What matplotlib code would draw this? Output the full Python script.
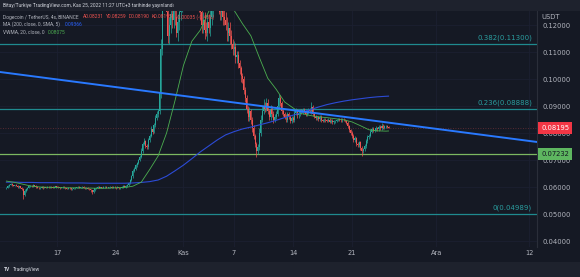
import matplotlib
matplotlib.use('Agg')
import matplotlib.pyplot as plt
import matplotlib.transforms as mtransforms
from matplotlib.patches import Rectangle
import numpy as np

# --- data (DOGE/USDT 4h, Binance) ---
first_open = 0.0595
closes = [
    0.0597, 0.0603, 0.0608, 0.0611, 0.0606, 0.0604,   # Oct 11
    0.0607, 0.0605, 0.0600, 0.0602, 0.0598, 0.0594,
    0.0570, 0.0585, 0.0593, 0.0598, 0.0602, 0.0604,
    0.0603, 0.0606, 0.0604, 0.0600, 0.0598, 0.0596,
    0.0598, 0.0600, 0.0597, 0.0599, 0.0598, 0.0600,
    0.0599, 0.0601, 0.0600, 0.0598, 0.0600, 0.0602,
    0.0601, 0.0599, 0.0597, 0.0599, 0.0600, 0.0598,   # Oct 17
    0.0596, 0.0594, 0.0597, 0.0595, 0.0592, 0.0594,
    0.0595, 0.0597, 0.0599, 0.0600, 0.0598, 0.0599,
    0.0600, 0.0598, 0.0596, 0.0597, 0.0594, 0.0592,
    0.0588, 0.0580, 0.0590, 0.0595, 0.0598, 0.0600,
    0.0598, 0.0599, 0.0597, 0.0599, 0.0600, 0.0598,
    0.0597, 0.0599, 0.0601, 0.0598, 0.0600, 0.0599,
    0.0597, 0.0599, 0.0596, 0.0598, 0.0600, 0.0603,   # Oct 24
    0.0601, 0.0603, 0.0608, 0.0615, 0.0625, 0.0640,
    0.0660, 0.0668, 0.0680, 0.0690, 0.0700, 0.0712,
    0.0735, 0.0760, 0.0770, 0.0752, 0.0748, 0.0775,
    0.0790, 0.0815, 0.0805, 0.0830, 0.0855, 0.0870,
    0.0880, 0.0950, 0.1110, 0.1300, 0.1400, 0.1340,
    0.1250, 0.1160, 0.1200, 0.1240, 0.1220, 0.1270,
    0.1230, 0.1170, 0.1210, 0.1250, 0.1280, 0.1330,
    0.1450, 0.1500, 0.1480, 0.1420, 0.1400, 0.1450,   # Nov 1
    0.1380, 0.1350, 0.1380, 0.1320, 0.1300, 0.1280,
    0.1250, 0.1200, 0.1220, 0.1180, 0.1170, 0.1210,
    0.1190, 0.1230, 0.1260, 0.1290, 0.1320, 0.1300,
    0.1300, 0.1270, 0.1250, 0.1260, 0.1230, 0.1220,
    0.1200, 0.1170, 0.1190, 0.1160, 0.1130, 0.1110,
    0.1120, 0.1080, 0.1090, 0.1060, 0.1040, 0.1010,   # Nov 7
    0.1000, 0.0960, 0.0930, 0.0890, 0.0860, 0.0880,
    0.0850, 0.0820, 0.0790, 0.0760, 0.0735, 0.0750,
    0.0800, 0.0850, 0.0880, 0.0900, 0.0890, 0.0910,
    0.0880, 0.0860, 0.0890, 0.0870, 0.0850, 0.0860,
    0.0870, 0.0900, 0.0930, 0.0910, 0.0880, 0.0870,
    0.0860, 0.0850, 0.0870, 0.0860, 0.0845, 0.0855,
    0.0850, 0.0875, 0.0880, 0.0865, 0.0870, 0.0880,   # Nov 14
    0.0875, 0.0885, 0.0880, 0.0870, 0.0878, 0.0885,
    0.0880, 0.0895, 0.0870, 0.0860, 0.0855, 0.0858,
    0.0852, 0.0860, 0.0848, 0.0845, 0.0850, 0.0848,
    0.0845, 0.0850, 0.0842, 0.0846, 0.0840, 0.0843,
    0.0845, 0.0848, 0.0852, 0.0850, 0.0847, 0.0850,
    0.0848, 0.0845, 0.0838, 0.0825, 0.0810, 0.0800,
    0.0790, 0.0775, 0.0780, 0.0760, 0.0755, 0.0765,   # Nov 21
    0.0745, 0.0735, 0.0740, 0.0752, 0.0770, 0.0785,
    0.0790, 0.0805, 0.0815, 0.0808, 0.0812, 0.0818,
    0.0815, 0.0822, 0.0818, 0.0826, 0.0820, 0.0825,
    0.0826, 0.08231, 0.08195,
]
# wick lengths above / below the body, in 0.0001 units
wick_up = [
    3, 4, 3, 4, 2, 3,  2, 3, 2, 3, 2, 2,  2, 6, 3, 3, 4, 3,  5, 4, 3, 2, 2, 3,
    2, 2, 3, 2, 2, 2,  2, 3, 2, 2, 3, 2,  3, 2, 2, 2, 3, 2,  2, 2, 3, 2, 2, 2,
    2, 3, 2, 3, 2, 2,  2, 2, 2, 3, 2, 2,  2, 2, 3, 3, 2, 3,  2, 2, 2, 3, 2, 2,
    3, 2, 3, 2, 2, 2,  2, 3, 2, 2, 3, 4,  3, 3, 4, 4, 5, 6,  6, 5, 5, 4, 5, 6,
    8, 7, 10, 5, 6, 8,  8, 10, 6, 8, 10, 12,  10, 30, 40, 40, 30, 40,
    40, 30, 30, 30, 40, 30,  30, 30, 30, 30, 40, 40,  40, 60, 40, 30, 30, 30,
    30, 30, 30, 30, 30, 30,  30, 30, 30, 30, 30, 30,  30, 30, 30, 30, 30, 30,
    30, 30, 30, 30, 30, 30,  30, 30, 20, 20, 20, 20,  20, 15, 15, 15, 10, 10,
    12, 10, 10, 10, 10, 15,  10, 10, 8, 8, 6, 10,  20, 15, 20, 25, 15, 20,
    15, 10, 15, 10, 10, 10,  10, 15, 15, 10, 10, 8,  8, 10, 8, 8, 6, 8,
    8, 10, 12, 8, 8, 8,  8, 8, 8, 6, 8, 8,  8, 20, 8, 6, 6, 5,  5, 6, 5, 5, 5, 5,
    5, 5, 5, 5, 5, 5,  5, 5, 5, 5, 5, 5,  5, 5, 5, 5, 5, 5,  6, 8, 8, 6, 6, 6,
    6, 6, 6, 8, 8, 8,  8, 8, 8, 6, 8, 8,  6, 8, 6, 10, 6, 6,  5, 5, 2.8,
]
wick_dn = [
    3, 2, 3, 2, 3, 2,  2, 2, 3, 2, 3, 4,  14, 5, 4, 3, 2, 3,  2, 3, 2, 3, 3, 4,
    3, 2, 3, 2, 3, 2,  2, 2, 3, 2, 2, 2,  2, 3, 3, 2, 2, 3,  3, 3, 2, 3, 4, 3,
    2, 2, 2, 2, 3, 2,  2, 3, 3, 2, 3, 4,  5, 6, 4, 3, 2, 2,  2, 3, 2, 2, 2, 3,
    2, 2, 2, 3, 2, 2,  3, 2, 3, 2, 2, 2,  2, 3, 3, 3, 4, 4,  5, 4, 5, 5, 4, 5,
    6, 8, 6, 8, 6, 6,  8, 6, 8, 6, 8, 8,  10, 10, 20, 20, 30, 30,
    30, 25, 30, 30, 30, 30,  30, 15, 30, 30, 30, 30,  30, 30, 30, 30, 30, 30,
    30, 30, 30, 30, 30, 30,  30, 30, 30, 30, 10, 30,  20, 30, 30, 30, 30, 30,
    30, 30, 30, 30, 30, 20,  20, 30, 30, 30, 20, 20,  20, 20, 20, 20, 20, 20,
    15, 15, 15, 15, 15, 15,  15, 15, 12, 12, 23, 12,  12, 10, 10, 10, 12, 10,
    10, 12, 10, 10, 12, 10,  8, 8, 10, 10, 8, 8,  8, 8, 8, 8, 8, 8,
    8, 8, 8, 8, 8, 8,  6, 6, 6, 6, 6, 6,  6, 8, 8, 6, 6, 6,  6, 6, 6, 6, 6, 6,
    6, 6, 6, 6, 6, 6,  5, 5, 5, 5, 5, 5,  5, 5, 5, 8, 8, 8,  8, 10, 8, 8, 8, 8,
    8, 20, 8, 6, 6, 6,  6, 6, 6, 6, 6, 6,  6, 6, 6, 6, 6, 6,  5, 5, 0.5,
]

# moving averages, sampled once a day (day 0 = Oct 11), last point = last candle
ma_days = list(range(46)) + [45.33]
ma200 = [0.0618, 0.0618, 0.0617, 0.0617, 0.0616, 0.0616, 0.0616, 0.0615, 0.0615,
         0.0615, 0.0614, 0.0614, 0.0614, 0.0614, 0.0614, 0.0615, 0.0617, 0.0620,
         0.0626, 0.0640, 0.0660, 0.0681, 0.0705, 0.0730, 0.0752, 0.0774, 0.0793,
         0.0805, 0.0815, 0.0822, 0.0830, 0.0838, 0.0847, 0.0857, 0.0866, 0.0876,
         0.0886, 0.0896, 0.0905, 0.0912, 0.0918, 0.0923, 0.0927, 0.0931, 0.0934,
         0.0936, 0.09366]
vwma = [0.0622, 0.0617, 0.0610, 0.0603, 0.0600, 0.0599, 0.0598, 0.0597, 0.0597,
        0.0596, 0.0596, 0.0595, 0.0596, 0.0597, 0.0598, 0.0603, 0.0618, 0.0665,
        0.0715, 0.0800, 0.0920, 0.1050, 0.1140, 0.1181, 0.1250, 0.1290, 0.1280,
        0.1255, 0.1205, 0.1160, 0.1080, 0.1003, 0.0962, 0.0915, 0.0893, 0.0872,
        0.0865, 0.0860, 0.0857, 0.0853, 0.0849, 0.0841, 0.0827, 0.0812, 0.0808,
        0.0807, 0.08075]

trend_days = [0, 45]
trend_vals = [0.10229, 0.08398]

fib_ratios = ['0.382', '0.236', '0']
fib_levels = [0.11300, 0.08888, 0.04989]
support = 0.07232

price_ticks = [0.04, 0.05, 0.06, 0.07, 0.08, 0.09, 0.10, 0.11, 0.12]
tick_days = [6, 13, 21, 27, 34, 41, 51, 62]
tick_labels = ['17', '24', 'Kas', '7', '14', '21', 'Ara', '12']

# --- style ---
BG = '#151924'
BAR = '#1e222d'
TXT = '#b2b5be'
GREEN = '#26a69a'
RED = '#ef5350'
FIB = '#1f8a8f'
W, H = 580, 277


def fx(px):
    return px / W


def fy(py):
    return 1 - py / H


fig = plt.figure(figsize=(5.8, 2.77), dpi=100)
fig.patch.set_facecolor(BG)
fig.add_artist(Rectangle((0, fy(11)), 1, 11 / H, transform=fig.transFigure,
                         fc=BAR, ec='none', zorder=0))
fig.add_artist(Rectangle((0, 0), 1, 15 / H, transform=fig.transFigure,
                         fc=BAR, ec='none', zorder=0))

ax = fig.add_axes([0, fy(247), 537 / W, (247 - 11) / H])
ax.set_facecolor(BG)
ax.set_xlim(-0.759, 62.94)
ax.set_ylim(0.03778, 0.12519)

for s in ['top', 'left', 'bottom']:
    ax.spines[s].set_visible(False)
ax.spines['right'].set_color('#2a2e39')
ax.spines['right'].set_linewidth(0.8)

# date labels drawn as texts so the last one can be cut by the price scale
ax.set_xticks(tick_days)
ax.set_xticklabels([])
ax.yaxis.tick_right()
ax.set_yticks(price_ticks)
ax.set_yticklabels(['%.5f' % v for v in price_ticks])
ax.tick_params(axis='x', length=0)
ax.tick_params(axis='y', length=0, pad=4.3, labelsize=4.9, labelcolor=TXT)
ax.grid(color='#1c2030', lw=0.6)
ax.set_axisbelow(True)

clip = mtransforms.TransformedBbox(mtransforms.Bbox([[0, 0], [537 / W, 1]]),
                                   fig.transFigure)
xblend = mtransforms.blended_transform_factory(ax.transData, fig.transFigure)
for d, lab in zip(tick_days, tick_labels):
    tx = ax.text(d, fy(253), lab, transform=xblend, ha='center', va='center',
                 fontsize=4.8, color=TXT)
    tx.set_clip_box(clip)
    tx.set_clip_on(True)

# candles
c = np.array(closes)
o = np.r_[first_open, c[:-1]]
t = np.arange(len(c)) / 6
hi = np.maximum(o, c) + np.array(wick_up) * 1e-4
lo = np.minimum(o, c) - np.array(wick_dn) * 1e-4
cols = np.where(c >= o, GREEN, RED)
ax.vlines(t, lo, hi, colors=cols, lw=0.5, zorder=3)
ax.bar(t, np.maximum(np.abs(c - o), 0.00005), bottom=np.minimum(o, c),
       width=0.115, color=cols, lw=0, zorder=3)

# horizontal levels
for lvl in fib_levels:
    ax.axhline(lvl, color=FIB, lw=0.9, zorder=2)
ax.axhline(support, color='#7cb860', lw=0.9, zorder=2)
ax.axhline(c[-1], color=RED, lw=0.6, ls=(0, (1, 2)), alpha=0.4, zorder=2)

for r, lvl in zip(fib_ratios, fib_levels):
    ax.annotate('%s(%.5f)' % (r, lvl), xy=(532 / 537, lvl),
                xycoords=('axes fraction', 'data'), xytext=(0, 2.3),
                textcoords='offset points', ha='right', va='bottom',
                color='#2a9d9f', fontsize=5)

# moving averages and trendline
ax.plot(ma_days, ma200, color='#2c4bd6', lw=0.8, zorder=4)
ax.plot(ma_days, vwma, color='#4caf50', lw=0.6, zorder=4)
ax.axline((trend_days[0], trend_vals[0]), (trend_days[1], trend_vals[1]),
          color='#2979ff', lw=1.4, zorder=5)

# price labels on the axis
blend = mtransforms.blended_transform_factory(ax.transAxes, ax.transData)
ax.text(1 + 4 / 537, c[-1], '%.5f' % c[-1], transform=blend, ha='left',
        va='center', fontsize=4.9, color='white', clip_on=False, zorder=6,
        bbox=dict(boxstyle='square,pad=0.45', fc='#f23645', ec='none'))
ax.text(1 + 4 / 537, support, '%.5f' % support, transform=blend, ha='left',
        va='center', fontsize=4.9, color='#131722', clip_on=False, zorder=6,
        bbox=dict(boxstyle='square,pad=0.45', fc='#5eb660', ec='none'))
fig.text(fx(541), fy(17), 'USDT', fontsize=4.9, color=TXT, va='center',
         ha='left', bbox=dict(boxstyle='square,pad=0.5', fc=BG, ec='none'))

# header and legend
SMALL = dict(family=['Roboto', 'DejaVu Sans'], fontsize=3.5, va='center')
fig.text(fx(3), fy(5.5), 'Bitay/Turkiye TradingView.com, Kas 25, 2022 11:27 UTC+3 tarihinde yayınlandı',
         color='#d1d4dc', **SMALL)
fig.text(fx(3), fy(17), 'Dogecoin / TetherUS, 4s, BINANCE', color=TXT, **SMALL)
for xp, s in zip([83, 106, 129, 152, 176],
                 ['A0.08231', 'Y0.08259', 'D0.08190', 'K0.08195', '-0.00035 (-0.43%)']):
    fig.text(fx(xp), fy(17), s, color=RED, **SMALL)
fig.text(fx(3), fy(24.5), 'MA (200, close, 0, SMA, 5)', color=TXT, **SMALL)
fig.text(fx(65), fy(24.5), '0.09366', color='#2962ff', **SMALL)
fig.text(fx(3), fy(32), 'VWMA, 20, close, 0', color=TXT, **SMALL)
fig.text(fx(48), fy(32), '0.08075', color='#4caf50', **SMALL)

fig.text(fx(4), fy(269.5), 'TV', color='#d1d4dc', fontweight='bold', **SMALL)
fig.text(fx(13), fy(269.5), 'TradingView', color='#d1d4dc', **SMALL)

fig.savefig('out.png', dpi=100, facecolor=BG)
